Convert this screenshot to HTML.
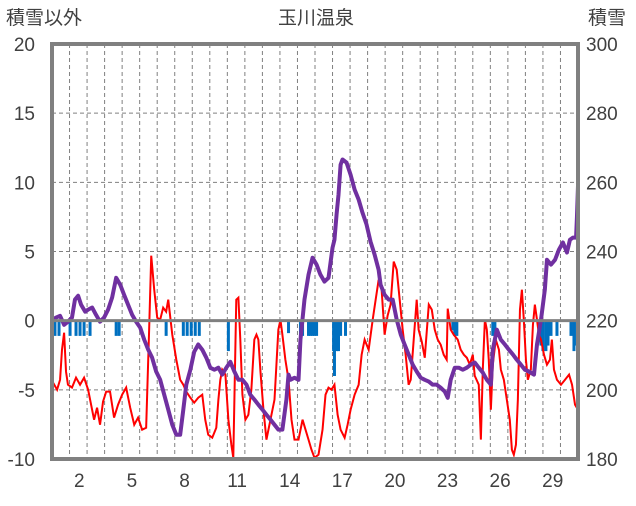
<!DOCTYPE html>
<html><head><meta charset="utf-8"><style>
body{margin:0;background:#fff}
svg text{font-family:"Liberation Sans","Noto Sans CJK JP",sans-serif;fill:#404040;font-size:19px}
</style></head><body>
<svg id="c" width="636" height="501" xmlns="http://www.w3.org/2000/svg">
<g id="grid"></g>
<g id="bars"></g>
<g id="lines"></g>
<g id="axes"></g>
<text x="6" y="24">積雪以外</text>
<text x="316" y="24" text-anchor="middle">玉川温泉</text>
<text x="588" y="24">積雪</text>
</svg>
<script>
const leftTicks=[-10,-5,0,5,10,15,20];
const rightTicks=[180,200,220,240,260,280,300];
const xLabels=[2,5,8,11,14,17,20,23,26,29];
// temperature: day offset (0..30) and value
const tempT=[0.06,0.29,0.46,0.57,0.69,0.8,0.91,1.14,1.37,1.6,1.83,2.06,2.23,2.4,2.57,2.74,2.91,3.09,3.31,3.54,3.77,4,4.23,4.46,4.69,4.91,5.14,5.37,5.54,5.66,5.83,6,6.17,6.34,6.51,6.63,6.86,7.09,7.31,7.49,7.66,7.89,8.11,8.34,8.57,8.74,8.91,9.14,9.37,9.49,9.6,9.71,9.89,10.06,10.23,10.34,10.51,10.63,10.74,10.86,11.03,11.2,11.37,11.54,11.66,11.77,11.89,12.06,12.23,12.46,12.69,12.91,13.03,13.14,13.31,13.49,13.66,13.83,14.06,14.29,14.46,14.63,14.8,14.97,15.2,15.43,15.6,15.77,15.94,16.11,16.29,16.46,16.69,16.86,17.03,17.26,17.49,17.66,17.83,18.06,18.29,18.46,18.63,18.8,18.97,19.14,19.31,19.49,19.66,19.83,20,20.17,20.34,20.46,20.63,20.8,20.91,21.09,21.26,21.49,21.66,21.83,22,22.17,22.34,22.51,22.57,22.74,22.91,23.14,23.31,23.49,23.66,23.83,24,24.11,24.34,24.46,24.57,24.69,24.8,24.91,25.03,25.14,25.31,25.49,25.6,25.77,25.94,26.11,26.23,26.34,26.46,26.57,26.69,26.8,26.91,27.03,27.14,27.31,27.43,27.54,27.66,27.77,27.89,28.06,28.23,28.4,28.51,28.63,28.8,29.03,29.26,29.49,29.66,29.83,30];
const tempV=[-4.48,-4.99,-4.27,-2.1,-0.87,-3.69,-4.63,-4.84,-4.12,-4.63,-4.12,-4.99,-6.07,-7.16,-6.29,-7.52,-5.86,-5.13,-5.13,-7.01,-6.07,-5.35,-4.84,-6.29,-7.52,-7.01,-7.88,-7.74,-0.65,4.7,2.24,0.22,0.07,0.94,0.65,1.52,-1.01,-2.82,-4.27,-4.63,-5.13,-5.57,-5.93,-5.57,-5.35,-7.16,-8.24,-8.46,-7.74,-5.71,-4.27,-3.54,-3.9,-7.16,-8.97,-9.91,1.52,1.66,-1.37,-5.35,-7.16,-6.8,-4.99,-1.37,-1.01,-1.37,-3.69,-6.44,-8.6,-7.16,-5.71,-0.65,0.07,-1.01,-2.82,-4.27,-7.16,-8.6,-8.6,-7.16,-7.88,-8.6,-9.33,-9.91,-9.69,-7.88,-5.35,-4.84,-4.99,-4.63,-6.8,-7.88,-8.46,-7.52,-6.44,-5.35,-4.63,-2.46,-1.37,-2.1,0.07,1.52,2.96,2.24,-1.01,0.36,1.16,4.27,3.69,1.52,-0.65,-2.46,-4.63,-4.27,-1.37,1.52,-0.65,-1.52,-2.68,1.16,0.8,-0.65,-1.37,-1.74,-2.46,-2.82,0.87,-0.65,-1.01,-1.37,-2.1,-2.46,-2.68,-3.18,-2.46,-3.98,-4.63,-8.6,-3.54,0.07,-0.65,-2.82,-6.44,-3.18,-1.37,-2.1,-3.54,-4.27,-5.71,-7.16,-9.33,-9.69,-8.97,-5.71,0.8,2.24,0.07,-2.82,-4.27,-3.54,-0.29,1.16,0.07,-1.01,-1.37,-2.46,-3.18,-2.82,-1.37,-3.54,-4.27,-4.63,-4.27,-3.9,-4.63,-6.07,-6.44];
// snow depth (cm, right axis)
const snowT=[0.06,0.23,0.46,0.69,0.91,1.14,1.31,1.49,1.66,1.89,2.06,2.29,2.51,2.74,2.97,3.2,3.43,3.66,3.89,4.11,4.34,4.57,4.8,5.03,5.26,5.49,5.71,5.94,6.17,6.4,6.63,6.86,7.09,7.31,7.49,7.66,7.89,8.11,8.34,8.57,8.8,9.03,9.26,9.49,9.71,9.94,10.17,10.4,10.63,10.86,11.09,11.31,11.54,11.77,12,12.23,12.46,12.69,12.91,13.14,13.37,13.49,13.6,13.83,14.06,14.17,14.4,14.63,14.86,15.09,15.31,15.54,15.77,16,16.11,16.23,16.34,16.46,16.57,16.8,17.03,17.26,17.49,17.71,17.94,18.17,18.4,18.63,18.74,18.97,19.2,19.43,19.66,19.89,20.11,20.34,20.57,20.8,21.03,21.26,21.49,21.71,21.94,22.17,22.4,22.57,22.74,22.97,23.2,23.43,23.66,23.89,24.11,24.34,24.57,24.8,25.03,25.14,25.37,25.6,25.83,26.06,26.29,26.51,26.74,26.97,27.2,27.49,27.66,27.89,28.11,28.23,28.46,28.69,28.91,29.14,29.37,29.54,29.71,29.89,29.94,30];
const snowV=[220.3,220.9,221.4,218.8,219.7,220.9,226.1,227.2,224.6,222.6,223.2,223.8,221.7,219.7,220.9,223.2,226.7,232.4,230.4,227.5,224.6,221.7,219.7,218,214.5,211.6,209.3,205.3,202.9,198.6,194.3,189.9,187,187,194.3,201.5,205.8,211,213.1,211.6,209.3,206.4,205.8,206.4,204.4,206.4,208.1,205.3,202.9,202.9,201.5,198.6,197.2,195.7,194.3,192.8,191.4,189.9,188.5,188.5,197.2,204.4,202.9,203.5,202.9,214.5,226.1,233.3,238.2,236.2,233.3,231.3,232.4,241.1,243.4,250.7,256.4,265.1,266.6,265.7,262.2,257.9,255,251.2,247.8,242.8,239.1,234.7,230.4,227.5,226.1,226.1,220.3,216,213.1,210.2,207.3,205.3,203.5,202.9,202.4,201.5,201.5,200.6,199.5,197.7,202.9,206.4,206.4,205.8,206.4,207.3,207.9,206.4,205,202.9,201.5,211.6,217.4,214.5,213.1,211.6,210.2,208.7,207.3,205.8,205.3,204.4,213.1,220.3,229,237.6,236.2,237.6,240.5,242.6,239.7,243.4,244,244,250,259];
// precipitation bars: day offset, value (drawn downward in left-axis units)
const precT=[0.17,0.4,1.03,1.37,1.6,1.83,2.17,3.66,3.83,6.51,7.49,7.71,7.94,8.17,8.4,10.06,13.49,14.17,14.29,14.63,14.74,14.86,14.97,15.09,16.06,16.11,16.23,16.34,16.46,16.74,22.86,22.97,23.09,25.14,25.26,27.77,27.89,28,28.17,28.29,28.46,28.8,29.6,29.77,29.94];
const precV=[1.1,1.1,1.1,1.1,1.1,1.1,1.1,1.1,1.1,1.1,1.1,1.1,1.1,1.1,1.1,2.2,0.9,1.1,1.1,1.1,1.1,1.1,1.1,1.1,2.2,4,2.2,2.2,1.1,1.1,0.7,1.1,1.1,1.1,1.1,1.1,1.8,2.2,2.2,1.8,1.1,1.1,1.1,2.2,1.8];

const X0=52,X1=578,Y0=44,Y1=459,NS="http://www.w3.org/2000/svg";
const xs=t=>X0+t*(X1-X0)/30;
const yl=v=>Y1-(v+10)*(Y1-Y0)/30;
const yr=v=>Y1-(v-180)*(Y1-Y0)/120;
function mk(tag,attrs,parent){const e=document.createElementNS(NS,tag);for(const k in attrs)e.setAttribute(k,attrs[k]);document.getElementById(parent).appendChild(e);return e;}
for(let d=1;d<30;d++){const e=mk('line',{x1:xs(d),x2:xs(d),y1:Y0,y2:Y1,stroke:'#808080','stroke-width':1,'stroke-dasharray':'4,3'},'grid');

}
leftTicks.forEach(v=>{if(v!==0&&v!==-10&&v!==20){const e=mk('line',{x1:X0,x2:X1,y1:yl(v),y2:yl(v),stroke:'#808080','stroke-width':1,'stroke-dasharray':'4,3'},'grid');

}
const t=mk('text',{x:35,y:yl(v)+7,'text-anchor':'end'},'axes');t.textContent=v;

});
rightTicks.forEach(v=>{const t=mk('text',{x:586,y:yr(v)+7},'axes');t.textContent=v;

});
xLabels.forEach(d=>{const t=mk('text',{x:xs(d-0.5)+1,y:487,'text-anchor':'middle'},'axes');t.textContent=d;

});
precT.forEach((t,i)=>{const r=mk('rect',{x:xs(t)-1.5,y:yl(0),width:3,height:yl(-precV[i])-yl(0),fill:'#0070C0'},'bars');

});
const z=mk('line',{x1:X0,x2:X1,y1:yl(0),y2:yl(0),stroke:'#808080','stroke-width':3},'axes');


const tp=mk('polyline',{points:tempT.map((t,i)=>xs(t)+','+yl(tempV[i])).join(' '),fill:'none',stroke:'#FF0000','stroke-width':2},'lines');


const sp=mk('polyline',{points:snowT.map((t,i)=>xs(t)+','+yr(snowV[i])).join(' '),fill:'none',stroke:'#7030A0','stroke-width':4,'stroke-linejoin':'round'},'lines');


const f=mk('rect',{x:X0,y:Y0,width:X1-X0,height:Y1-Y0,fill:'none',stroke:'#808080','stroke-width':4},'axes');


</script>
</body></html>
